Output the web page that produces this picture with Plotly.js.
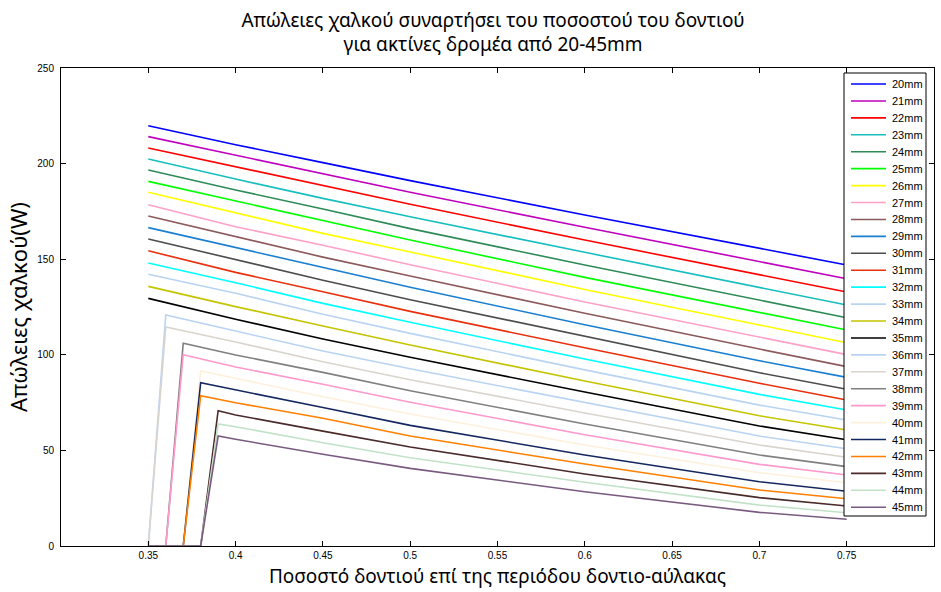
<!DOCTYPE html>
<html>
<head>
<meta charset="utf-8">
<script src="https://cdn.plot.ly/plotly-3.0.1.min.js"></script>
<style>
html,body{margin:0;padding:0;background:#fff;}
#chart{width:941px;height:592px;}
</style>
</head>
<body>
<div id="chart"></div>
<script>
// ---- data ----
const seriesNames = ["20mm","21mm","22mm","23mm","24mm","25mm","26mm","27mm","28mm","29mm","30mm","31mm","32mm","33mm","34mm","35mm","36mm","37mm","38mm","39mm","40mm","41mm","42mm","43mm","44mm","45mm"];

// tooth ratio samples
const xMain = [0.35, 0.40, 0.45, 0.50, 0.60, 0.70, 0.75];
const x36 = [0.35, 0.36, 0.40, 0.45, 0.50, 0.60, 0.70, 0.75];
const x38 = [0.35, 0.36, 0.37, 0.40, 0.45, 0.50, 0.60, 0.70, 0.75];
const x40 = [0.35, 0.36, 0.37, 0.38, 0.40, 0.45, 0.50, 0.60, 0.70, 0.75];
const x43 = [0.35, 0.36, 0.37, 0.38, 0.39, 0.40, 0.45, 0.50, 0.60, 0.70, 0.75];

// copper losses (W)
const loss20 = [219.8, 209.9, 200.5, 191.1, 173.1, 155.7, 147.0];
const loss21 = [214.1, 204.5, 194.7, 185.0, 166.7, 148.7, 139.8];
const loss22 = [208.2, 198.4, 188.4, 178.7, 160.0, 141.7, 132.8];
const loss23 = [202.4, 191.9, 181.8, 172.2, 153.6, 135.1, 126.0];
const loss24 = [196.7, 186.2, 176.3, 166.0, 147.0, 128.7, 119.4];
const loss25 = [190.7, 180.4, 170.3, 160.0, 140.5, 122.2, 113.0];
const loss26 = [185.0, 174.3, 163.5, 153.8, 134.2, 115.6, 106.3];
const loss27 = [178.5, 167.0, 157.3, 147.1, 127.6, 109.1, 100.1];
const loss28 = [172.6, 161.8, 151.1, 141.2, 121.7, 103.0, 93.8];
const loss29 = [166.5, 156.2, 145.6, 135.3, 115.7, 96.9, 88.2];
const loss30 = [160.6, 149.9, 139.0, 128.8, 109.8, 90.6, 82.0];
const loss31 = [154.4, 143.1, 133.0, 122.7, 103.7, 85.1, 76.4];
const loss32 = [148.0, 137.7, 126.9, 117.0, 97.8, 79.3, 71.1];
const loss33 = [142.1, 132.2, 121.2, 111.2, 92.1, 73.7, 65.9];
const loss34 = [135.8, 125.2, 115.1, 105.1, 86.3, 68.1, 60.7];
const loss35 = [129.5, 118.6, 108.3, 98.7, 80.5, 62.8, 55.6];
const loss36 = [0, 120.8, 112.4, 102.0, 92.7, 75.0, 57.5, 50.9];
const loss37 = [0, 114.5, 106.7, 96.4, 87.0, 69.6, 52.8, 46.4];
const loss38 = [0, 0, 106.0, 99.9, 90.8, 81.2, 63.8, 47.6, 41.5];
const loss39 = [0, 0, 100.0, 93.6, 84.6, 75.2, 58.2, 42.7, 37.1];
const loss40 = [0, 0, 0, 91.5, 87.7, 78.1, 69.0, 52.8, 38.3, 33.1];
const loss41 = [0, 0, 0, 85.4, 81.6, 72.4, 63.1, 47.6, 33.6, 28.6];
const loss42 = [0, 0, 0, 78.6, 74.9, 66.8, 57.5, 42.9, 29.3, 24.7];
const loss43 = [0, 0, 0, 0, 70.8, 68.5, 60.1, 51.8, 37.7, 25.3, 20.9];
const loss44 = [0, 0, 0, 0, 63.8, 62.4, 54.0, 46.2, 33.3, 21.4, 17.4];
const loss45 = [0, 0, 0, 0, 57.5, 55.8, 48.0, 40.6, 28.4, 17.6, 14.0];

const xTickVals = [0.35, 0.4, 0.45, 0.5, 0.55, 0.6, 0.65, 0.7, 0.75, 0.8];
const xTickText = ["0.35","0.4","0.45","0.5","0.55","0.6","0.65","0.7","0.75","0.8"];
const yTickVals = [0, 50, 100, 150, 200, 250];

// ---- styling ----
const colors = ["#0000ff","#bf00bf","#ff0000","#17bebe","#2e8b57","#00ff00","#ffff00","#ffa0c8","#8c5a5a","#1a7fd0",
                "#4d4d4d","#e8300c","#00ffff","#b9d3f2","#c4c400","#000000","#b9d3f2","#d9d5cd","#808080","#ff99cc",
                "#fff0dc","#14285f","#ff8000","#4a2a2a","#c2e2c8","#7a5a80"];

const xsList = [xMain,xMain,xMain,xMain,xMain,xMain,xMain,xMain,xMain,xMain,xMain,xMain,xMain,xMain,xMain,xMain,
                x36,x36,x38,x38,x40,x40,x40,x43,x43,x43];
const ysList = [loss20,loss21,loss22,loss23,loss24,loss25,loss26,loss27,loss28,loss29,loss30,loss31,loss32,loss33,loss34,loss35,
                loss36,loss37,loss38,loss39,loss40,loss41,loss42,loss43,loss44,loss45];

const traces = seriesNames.map((n, i) => ({
  type: "scatter", mode: "lines", name: n,
  x: xsList[i], y: ysList[i],
  line: {color: colors[i], width: 1.6},
  showlegend: false, hoverinfo: "skip"
}));

// ---- manual legend (MATLAB style, inside the axes) ----
const W = 941, H = 592, mL = 61, mR = 7, mT = 68, mB = 46;
const pw = W - mL - mR, ph = H - mT - mB;
const px2x = p => (p - mL) / pw;
const py2y = p => (H - mB - p) / ph;

const shapes = [{
  type: "rect", xref: "paper", yref: "paper",
  x0: px2x(844), x1: px2x(926), y0: py2y(516), y1: py2y(73),
  line: {color: "#000", width: 1}, fillcolor: "#fff", layer: "above"
}];
const annotations = [];
seriesNames.forEach((n, i) => {
  const py = 84 + 16.93 * i;
  shapes.push({type: "line", xref: "paper", yref: "paper",
    x0: px2x(851), x1: px2x(886), y0: py2y(py), y1: py2y(py),
    line: {color: colors[i], width: 1.6}, layer: "above"});
  annotations.push({xref: "paper", yref: "paper", x: px2x(890), y: py2y(py),
    xanchor: "left", yanchor: "middle", showarrow: false, text: n,
    font: {family: "Liberation Sans, Arial", size: 11, color: "#000"}});
});

const layout = {
  width: W, height: H,
  margin: {l: mL, r: mR, t: mT, b: mB, pad: 0},
  paper_bgcolor: "#fff", plot_bgcolor: "#fff",
  showlegend: false,
  title: {
    text: "Απώλειες χαλκού συναρτήσει του ποσοστού του δοντιού<br>για ακτίνες δρομέα από 20-45mm",
    font: {family: "Noto Sans", size: 19, color: "#000"},
    x: 0.524, xanchor: "center", xref: "container",
    y: 0.955, yanchor: "top", yref: "container"
  },
  xaxis: {
    range: [0.3, 0.8], tickvals: xTickVals, ticktext: xTickText,
    ticks: "inside", ticklen: 5, tickcolor: "#000", tickwidth: 1,
    showline: true, linecolor: "#000", linewidth: 1, mirror: "ticks",
    showgrid: false, zeroline: false,
    tickfont: {family: "Liberation Sans, Arial", size: 10, color: "#000"},
    title: {text: "Ποσοστό δοντιού επί της περιόδου δοντιο-αύλακας",
            font: {family: "Noto Sans", size: 19, color: "#000"}, standoff: 9},
    automargin: false
  },
  yaxis: {
    range: [0, 250], tickvals: yTickVals,
    ticks: "inside", ticklen: 5, tickcolor: "#000", tickwidth: 1,
    showline: true, linecolor: "#000", linewidth: 1, mirror: "ticks",
    showgrid: false, zeroline: false,
    tickfont: {family: "Liberation Sans, Arial", size: 10, color: "#000"},
    ticklabelstandoff: 4,
    title: {text: "Απώλειες χαλκού(W)",
            font: {family: "Noto Sans", size: 22, color: "#000"}, standoff: 3},
    automargin: false
  },
  shapes: shapes,
  annotations: annotations
};

Plotly.newPlot("chart", traces, layout, {displayModeBar: false, staticPlot: true});
</script>
</body>
</html>
